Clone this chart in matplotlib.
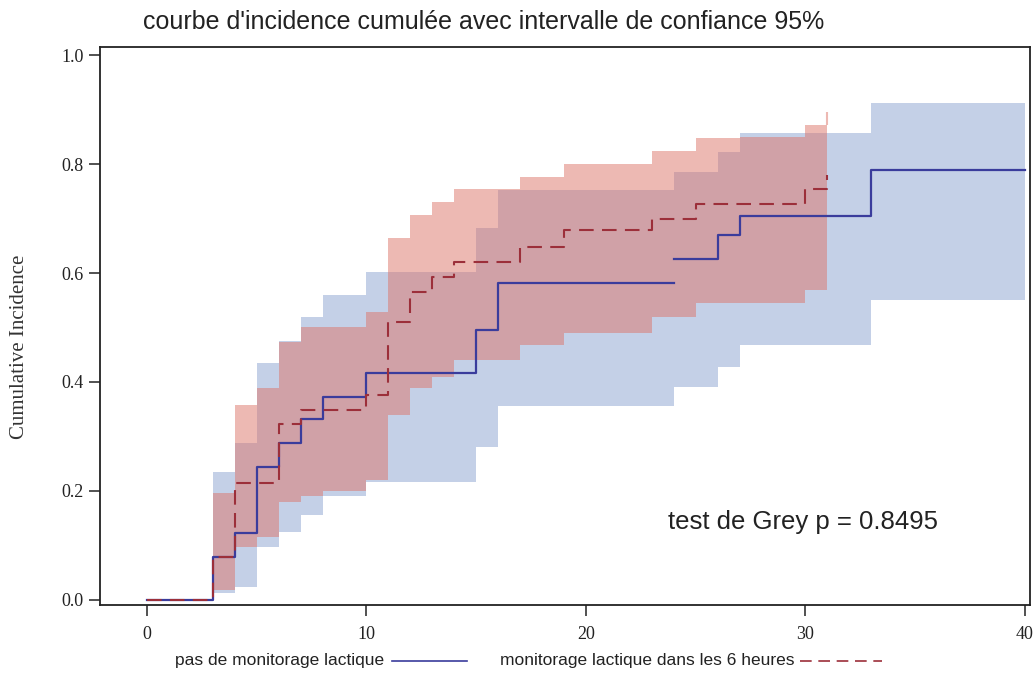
import matplotlib
matplotlib.use("Agg")
import matplotlib.pyplot as plt
from matplotlib.lines import Line2D

# Cumulative incidence, no lactate monitoring (solid blue)
blue_time = [0, 3, 4, 5, 6, 7, 8, 10, 15, 16, 24, 26, 27, 33, 40]
blue_ci = [0.0, 0.079, 0.123, 0.244, 0.288, 0.332, 0.373, 0.416, 0.495,
           0.582, 0.626, 0.670, 0.705, 0.789, 0.789]

# 95% confidence band, no lactate monitoring
blue_band_time = [3, 4, 5, 6, 7, 8, 10, 15, 16, 24, 26, 27, 33, 40]
blue_upper = [0.235, 0.288, 0.435, 0.476, 0.520, 0.560, 0.602, 0.683,
              0.752, 0.786, 0.822, 0.856, 0.912, 0.912]
blue_lower = [0.012, 0.024, 0.097, 0.125, 0.156, 0.190, 0.217, 0.281,
              0.356, 0.391, 0.428, 0.468, 0.550, 0.550]

# Cumulative incidence, lactate monitoring within 6 hours (dashed red)
red_time = [0, 3, 4, 6, 7, 10, 11, 12, 13, 14, 17, 19, 23, 25, 30, 31]
red_ci = [0.0, 0.079, 0.215, 0.323, 0.349, 0.376, 0.510, 0.565, 0.593,
          0.620, 0.648, 0.679, 0.700, 0.727, 0.754, 0.780]

# 95% confidence band, lactate monitoring within 6 hours
red_band_time = [3, 4, 5, 6, 7, 8, 10, 11, 12, 13, 14, 17, 19, 23, 25, 27, 30, 31]
red_upper = [0.196, 0.358, 0.389, 0.474, 0.500, 0.500, 0.529, 0.664, 0.706,
             0.731, 0.754, 0.777, 0.800, 0.824, 0.848, 0.850, 0.872, 0.896]
red_lower = [0.018, 0.098, 0.116, 0.180, 0.190, 0.200, 0.220, 0.339, 0.389,
             0.410, 0.440, 0.468, 0.490, 0.520, 0.545, 0.545, 0.569, 0.569]

x_ticks = [0, 10, 20, 30, 40]
y_ticks = [0.0, 0.2, 0.4, 0.6, 0.8, 1.0]

title = "courbe d'incidence cumulée avec intervalle de confiance 95%"
y_label = "Cumulative Incidence"
label_blue = "pas de monitorage lactique"
label_red = "monitorage lactique dans les 6 heures"
test_text = "test de Grey p = 0.8495"

BLUE_FILL = "#c4d0e7"
RED_FILL = "#dd7468"
BLUE_LINE = "#3a3c9c"
RED_LINE = "#9c2f3a"
INK = "#222222"

W, H = 1033, 675
fig = plt.figure(figsize=(W / 100, H / 100), dpi=100)
ax = fig.add_axes([100 / W, 1 - 605 / H, 930 / W, 558 / H])

ax.fill_between(blue_band_time, blue_lower, blue_upper, step="post",
                color=BLUE_FILL, linewidth=0, zorder=1)
ax.fill_between(red_band_time, red_lower, red_upper, step="post",
                color=RED_FILL, alpha=0.5, linewidth=0, zorder=2)
# last upper value of the red band is a zero-width step: show it as a sliver
ax.vlines(red_band_time[-1], red_upper[-2], red_upper[-1],
          color=RED_FILL, alpha=0.5, linewidth=1.5, zorder=2)

# solid curve, broken where the step at t=24 is not joined
split = blue_time.index(24)
ax.step(blue_time[:split + 1], blue_ci[:split] + [blue_ci[split - 1]],
        where="post", color=BLUE_LINE, linewidth=1.6, zorder=4)
ax.step(blue_time[split:], blue_ci[split:], where="post",
        color=BLUE_LINE, linewidth=1.6, zorder=4)
ax.step(red_time, red_ci, where="post", color=RED_LINE, linewidth=1.5,
        dashes=(7, 4), zorder=5)

ax.set_xlim(-2.14, 40.23)
ax.set_ylim(-0.0092, 1.0147)
ax.set_xticks(x_ticks)
ax.set_yticks(y_ticks)
ax.set_xticklabels([str(v) for v in x_ticks])
ax.set_yticklabels([f"{v:.1f}" for v in y_ticks])
for lab in ax.get_xticklabels() + ax.get_yticklabels():
    lab.set_fontfamily("Liberation Serif")
    lab.set_fontsize(13)
    lab.set_color(INK)
ax.tick_params(axis="both", direction="out", length=8, width=1.1, colors=INK)
ax.tick_params(axis="x", pad=7)
ax.tick_params(axis="y", pad=4)
for sp in ax.spines.values():
    sp.set_linewidth(1.3)
    sp.set_color(INK)

fig.text(143 / W, 1 - 22 / H, title, fontsize=18, family="Liberation Sans",
         color=INK, ha="left", va="center")
fig.text(20 / W, 1 - 347 / H, y_label, fontsize=15, family="Liberation Serif",
         color="#333333", rotation=90, ha="center", va="center")

ax.text(0.611, 0.149, test_text, transform=ax.transAxes, fontsize=18.5,
        family="Liberation Sans", color=INK, ha="left", va="center")

# bottom legend: label followed by a line sample
ly = 1 - 661 / H
fig.text(175 / W, ly, label_blue, fontsize=12.5, family="Liberation Sans",
         color=INK, ha="left", va="center")
fig.add_artist(Line2D([392 / W, 467 / W], [ly, ly], color=BLUE_LINE,
                      linewidth=1.2, transform=fig.transFigure))
fig.text(500 / W, ly, label_red, fontsize=12.5, family="Liberation Sans",
         color=INK, ha="left", va="center")
fig.add_artist(Line2D([800 / W, 882 / W], [ly, ly], color=RED_LINE,
                      linewidth=1.2, dashes=(7, 4), transform=fig.transFigure))

fig.savefig("out.png", dpi=100)
